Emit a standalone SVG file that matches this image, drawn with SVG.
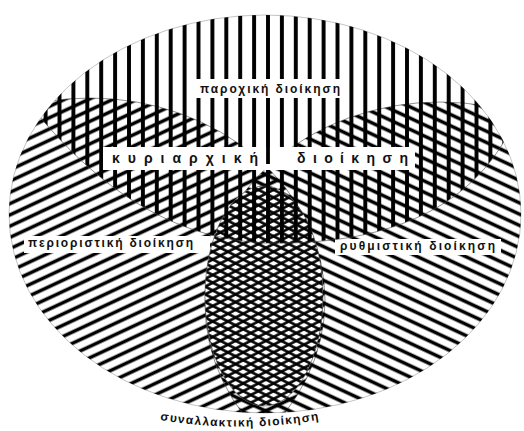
<svg xmlns="http://www.w3.org/2000/svg" width="524" height="431" viewBox="0 0 524 431">
<style>
.txt{font-family:"Liberation Sans","DejaVu Sans",sans-serif;font-weight:bold;fill:#111}
.thin{fill:none;stroke:#444;stroke-width:0.6}
.bg{fill:#fff}
</style>
<defs>
<clipPath id="outerClip"><ellipse cx="265" cy="214" rx="256" ry="199"/></clipPath>
<pattern id="hV" patternUnits="userSpaceOnUse" x="261.05" y="0" width="13.9" height="20"><rect x="5" y="0" width="3.9" height="20" fill="#000"/></pattern>
<pattern id="hL" patternUnits="userSpaceOnUse" width="40" height="10.2" patternTransform="rotate(-25)"><rect x="0" y="3.4" width="40" height="3.5" fill="#000"/></pattern>
<pattern id="hR" patternUnits="userSpaceOnUse" width="40" height="10.2" patternTransform="rotate(25)"><rect x="0" y="3.4" width="40" height="3.5" fill="#000"/></pattern>
<pattern id="hX1" patternUnits="userSpaceOnUse" width="40" height="6.9" patternTransform="rotate(-27)"><rect x="0" y="2.2" width="40" height="2.6" fill="#000"/></pattern>
<pattern id="hX2" patternUnits="userSpaceOnUse" width="40" height="6.9" patternTransform="rotate(27)"><rect x="0" y="2.2" width="40" height="2.6" fill="#000"/></pattern>
<path id="tShape" d="M0,0 L0,60 L15,85 C70,160 150,238 265,243 C400,246 480,200 515,120 L524,90 L524,0 Z"/>
<path id="bottomArc" d="M160,420 Q255,436 354,413"/>
</defs>

<g id="outline">
<ellipse cx="265" cy="214" rx="256" ry="199" fill="none" stroke="#888" stroke-width="0.5"/>
</g>

<g id="periorist">
<g clip-path="url(#outerClip)">
<ellipse cx="90" cy="300" rx="235" ry="202" fill="url(#hL)"/>
<ellipse cx="90" cy="300" rx="235" ry="202" class="thin"/>
</g>
<rect x="24" y="236" width="186" height="17" class="bg"/>
<text x="28" y="247" class="txt" font-size="12" textLength="165" lengthAdjust="spacing">περιοριστική διοίκηση</text>
</g>

<g id="rythmist">
<g clip-path="url(#outerClip)">
<ellipse cx="440" cy="304" rx="235" ry="202" fill="url(#hR)"/>
<ellipse cx="440" cy="304" rx="235" ry="202" class="thin"/>
</g>
<rect x="335" y="239" width="166" height="16" class="bg"/>
<text x="340" y="250" class="txt" font-size="12" textLength="155" lengthAdjust="spacing">ρυθμιστική διοίκηση</text>
</g>

<g id="synallaktiki">
<g clip-path="url(#outerClip)">
<ellipse cx="264" cy="296" rx="59" ry="110" fill="#fff"/>
<ellipse cx="264" cy="296" rx="59" ry="110" fill="url(#hX1)"/>
<ellipse cx="264" cy="296" rx="59" ry="110" fill="url(#hX2)"/>
<ellipse cx="264" cy="296" rx="59" ry="110" class="thin"/>
</g>
<text class="txt" font-size="12" letter-spacing="1.3"><textPath href="#bottomArc">συναλλακτική διοίκηση</textPath></text>
</g>

<g id="paroxiki">
<g clip-path="url(#outerClip)">
<use href="#tShape" fill="url(#hV)"/>
<use href="#tShape" class="thin"/>
</g>
<rect x="195" y="79" width="152" height="19" class="bg"/>
<text x="200" y="93" class="txt" font-size="12" textLength="140" lengthAdjust="spacing">παροχική διοίκηση</text>
</g>

<g id="kyriarxiki">
<rect x="103" y="147" width="312" height="23" class="bg"/>
<rect x="266.1" y="146" width="3.8" height="18" fill="#000"/>
<text x="112" y="163" class="txt" font-size="14" textLength="146" lengthAdjust="spacing">κυριαρχική</text>
<text x="297" y="163" class="txt" font-size="14" textLength="111" lengthAdjust="spacing">διοίκηση</text>
</g>

<g id="connectors"/>
</svg>
